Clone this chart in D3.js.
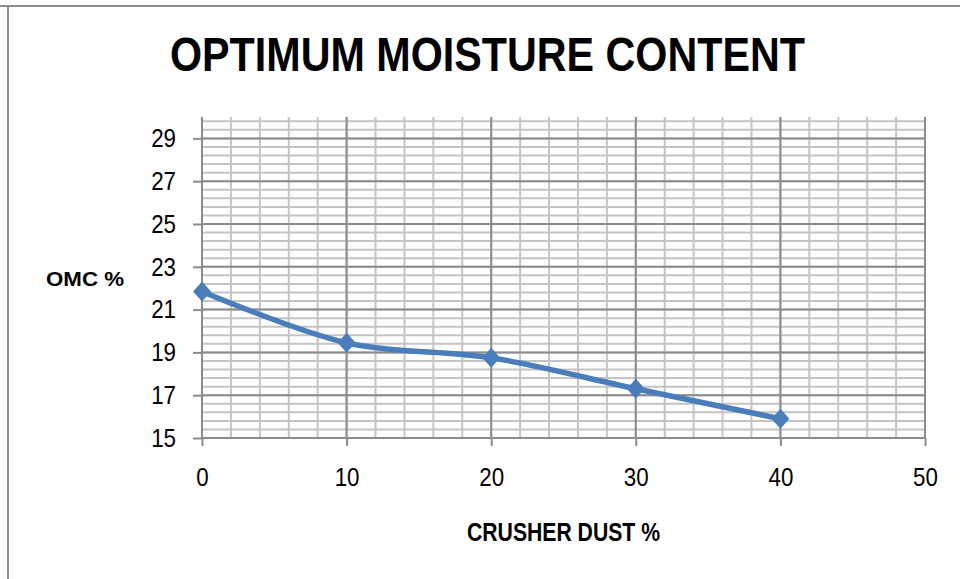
<!DOCTYPE html>
<html>
<head>
<meta charset="utf-8">
<script src="https://cdn.jsdelivr.net/npm/d3@7"></script>
<style>
  body { margin: 0; background: #fff; }
  text { font-family: "Liberation Sans Narrow", "Arial Narrow", "Liberation Sans", sans-serif; fill: #000; }
</style>
</head>
<body>
<svg class="chart"></svg>
<script>
var crusherDust = [0, 10, 20, 30, 40];
var omc = [21.85, 19.45, 18.75, 17.3, 15.9];
var xTicks = [0, 10, 20, 30, 40, 50];
var yTicks = [15, 17, 19, 21, 23, 25, 27, 29];

var width = 960,
    height = 579;
var plot = { left: 202, right: 925, top: 117, bottom: 438 };

var x = d3.scaleLinear()
    .domain([0, 50])
    .range([plot.left, plot.right]);
var y = d3.scaleLinear()
    .domain([15, 30])
    .range([plot.bottom, plot.top]);

var chart = d3.select(".chart")
    .attr("width", width)
    .attr("height", height);

// outer frame (only top and left visible)
chart.append("line").attr("x1", 0).attr("x2", width).attr("y1", 6).attr("y2", 6)
    .attr("stroke", "#8c8c8c").attr("stroke-width", 2);
chart.append("line").attr("x1", 8).attr("x2", 8).attr("y1", 6).attr("y2", height)
    .attr("stroke", "#8c8c8c").attr("stroke-width", 2);

// minor grid: every 2 on x, every 0.4 on y
var xMinor = d3.range(0, 26).map(function(i) { return i * 2; });
var yMinor = d3.range(1, 38).map(function(i) { return 15 + i * 0.4; });

chart.append("g").selectAll("line")
    .data(yMinor)
  .enter().append("line")
    .attr("x1", plot.left).attr("x2", plot.right)
    .attr("y1", function(d) { return y(d); }).attr("y2", function(d) { return y(d); })
    .attr("stroke", "#c4c4c4").attr("stroke-width", 2);

chart.append("g").selectAll("line")
    .data(xMinor)
  .enter().append("line")
    .attr("x1", function(d) { return x(d); }).attr("x2", function(d) { return x(d); })
    .attr("y1", plot.top).attr("y2", plot.bottom)
    .attr("stroke", "#c4c4c4").attr("stroke-width", 2);

// major grid
chart.append("g").selectAll("line")
    .data(yTicks)
  .enter().append("line")
    .attr("x1", plot.left).attr("x2", plot.right)
    .attr("y1", function(d) { return y(d); }).attr("y2", function(d) { return y(d); })
    .attr("stroke", "#8c8c8c").attr("stroke-width", 2);

chart.append("g").selectAll("line")
    .data(xTicks)
  .enter().append("line")
    .attr("x1", function(d) { return x(d); }).attr("x2", function(d) { return x(d); })
    .attr("y1", plot.top).attr("y2", plot.bottom)
    .attr("stroke", "#8c8c8c").attr("stroke-width", 2);

// axes
var yAxis = chart.append("g")
    .attr("transform", "translate(" + plot.left + ",0)")
    .call(d3.axisLeft(y).tickValues(yTicks).tickSize(9).tickPadding(17).tickFormat(d3.format("d")));
var xAxis = chart.append("g")
    .attr("transform", "translate(0," + plot.bottom + ")")
    .call(d3.axisBottom(x).tickValues(xTicks).tickSize(8).tickPadding(22).tickFormat(d3.format("d")));

[yAxis, xAxis].forEach(function(a) {
  a.select(".domain").attr("stroke", "#8c8c8c").attr("stroke-width", 2);
  a.selectAll(".tick line").attr("stroke", "#8c8c8c").attr("stroke-width", 2);
  a.selectAll(".tick text").style("font-size", "26px");
});
yAxis.select(".domain").attr("d", "M0," + plot.top + "V" + plot.bottom);
xAxis.select(".domain").attr("d", "M" + plot.left + ",0H" + plot.right);

// squeeze tick labels to a narrow face
yAxis.selectAll(".tick text")
    .attr("transform", "translate(-26,0) scale(0.86,1)")
    .attr("x", 0);
xAxis.selectAll(".tick text")
    .attr("transform", "scale(0.86,1)");

// series
var pts = crusherDust.map(function(d, i) { return [x(d), y(omc[i])]; });

chart.append("path")
    .datum(pts)
    .attr("fill", "none")
    .attr("stroke", "#4a7ebb")
    .attr("stroke-width", 5.5)
    .attr("stroke-linejoin", "round")
    .attr("d", d3.line().curve(d3.curveCatmullRom.alpha(0.5)));

chart.append("g").selectAll("path")
    .data(pts)
  .enter().append("path")
    .attr("fill", "#4a7ebb")
    .attr("d", function(d) {
      return "M" + d[0] + "," + (d[1] - 10) + "L" + (d[0] + 9) + "," + d[1] +
             "L" + d[0] + "," + (d[1] + 10) + "L" + (d[0] - 9) + "," + d[1] + "Z";
    });

// titles
chart.append("text")
    .attr("x", 170).attr("y", 71)
    .attr("textLength", 635).attr("lengthAdjust", "spacingAndGlyphs")
    .style("font-size", "49px").style("font-weight", "bold")
    .text("OPTIMUM MOISTURE CONTENT");

chart.append("text")
    .attr("x", 46).attr("y", 286)
    .attr("textLength", 78).attr("lengthAdjust", "spacingAndGlyphs")
    .style("font-size", "21px").style("font-weight", "bold")
    .text("OMC %");

chart.append("text")
    .attr("x", 467).attr("y", 541)
    .attr("textLength", 193).attr("lengthAdjust", "spacingAndGlyphs")
    .style("font-size", "25px").style("font-weight", "bold")
    .text("CRUSHER DUST %");
</script>
</body>
</html>
